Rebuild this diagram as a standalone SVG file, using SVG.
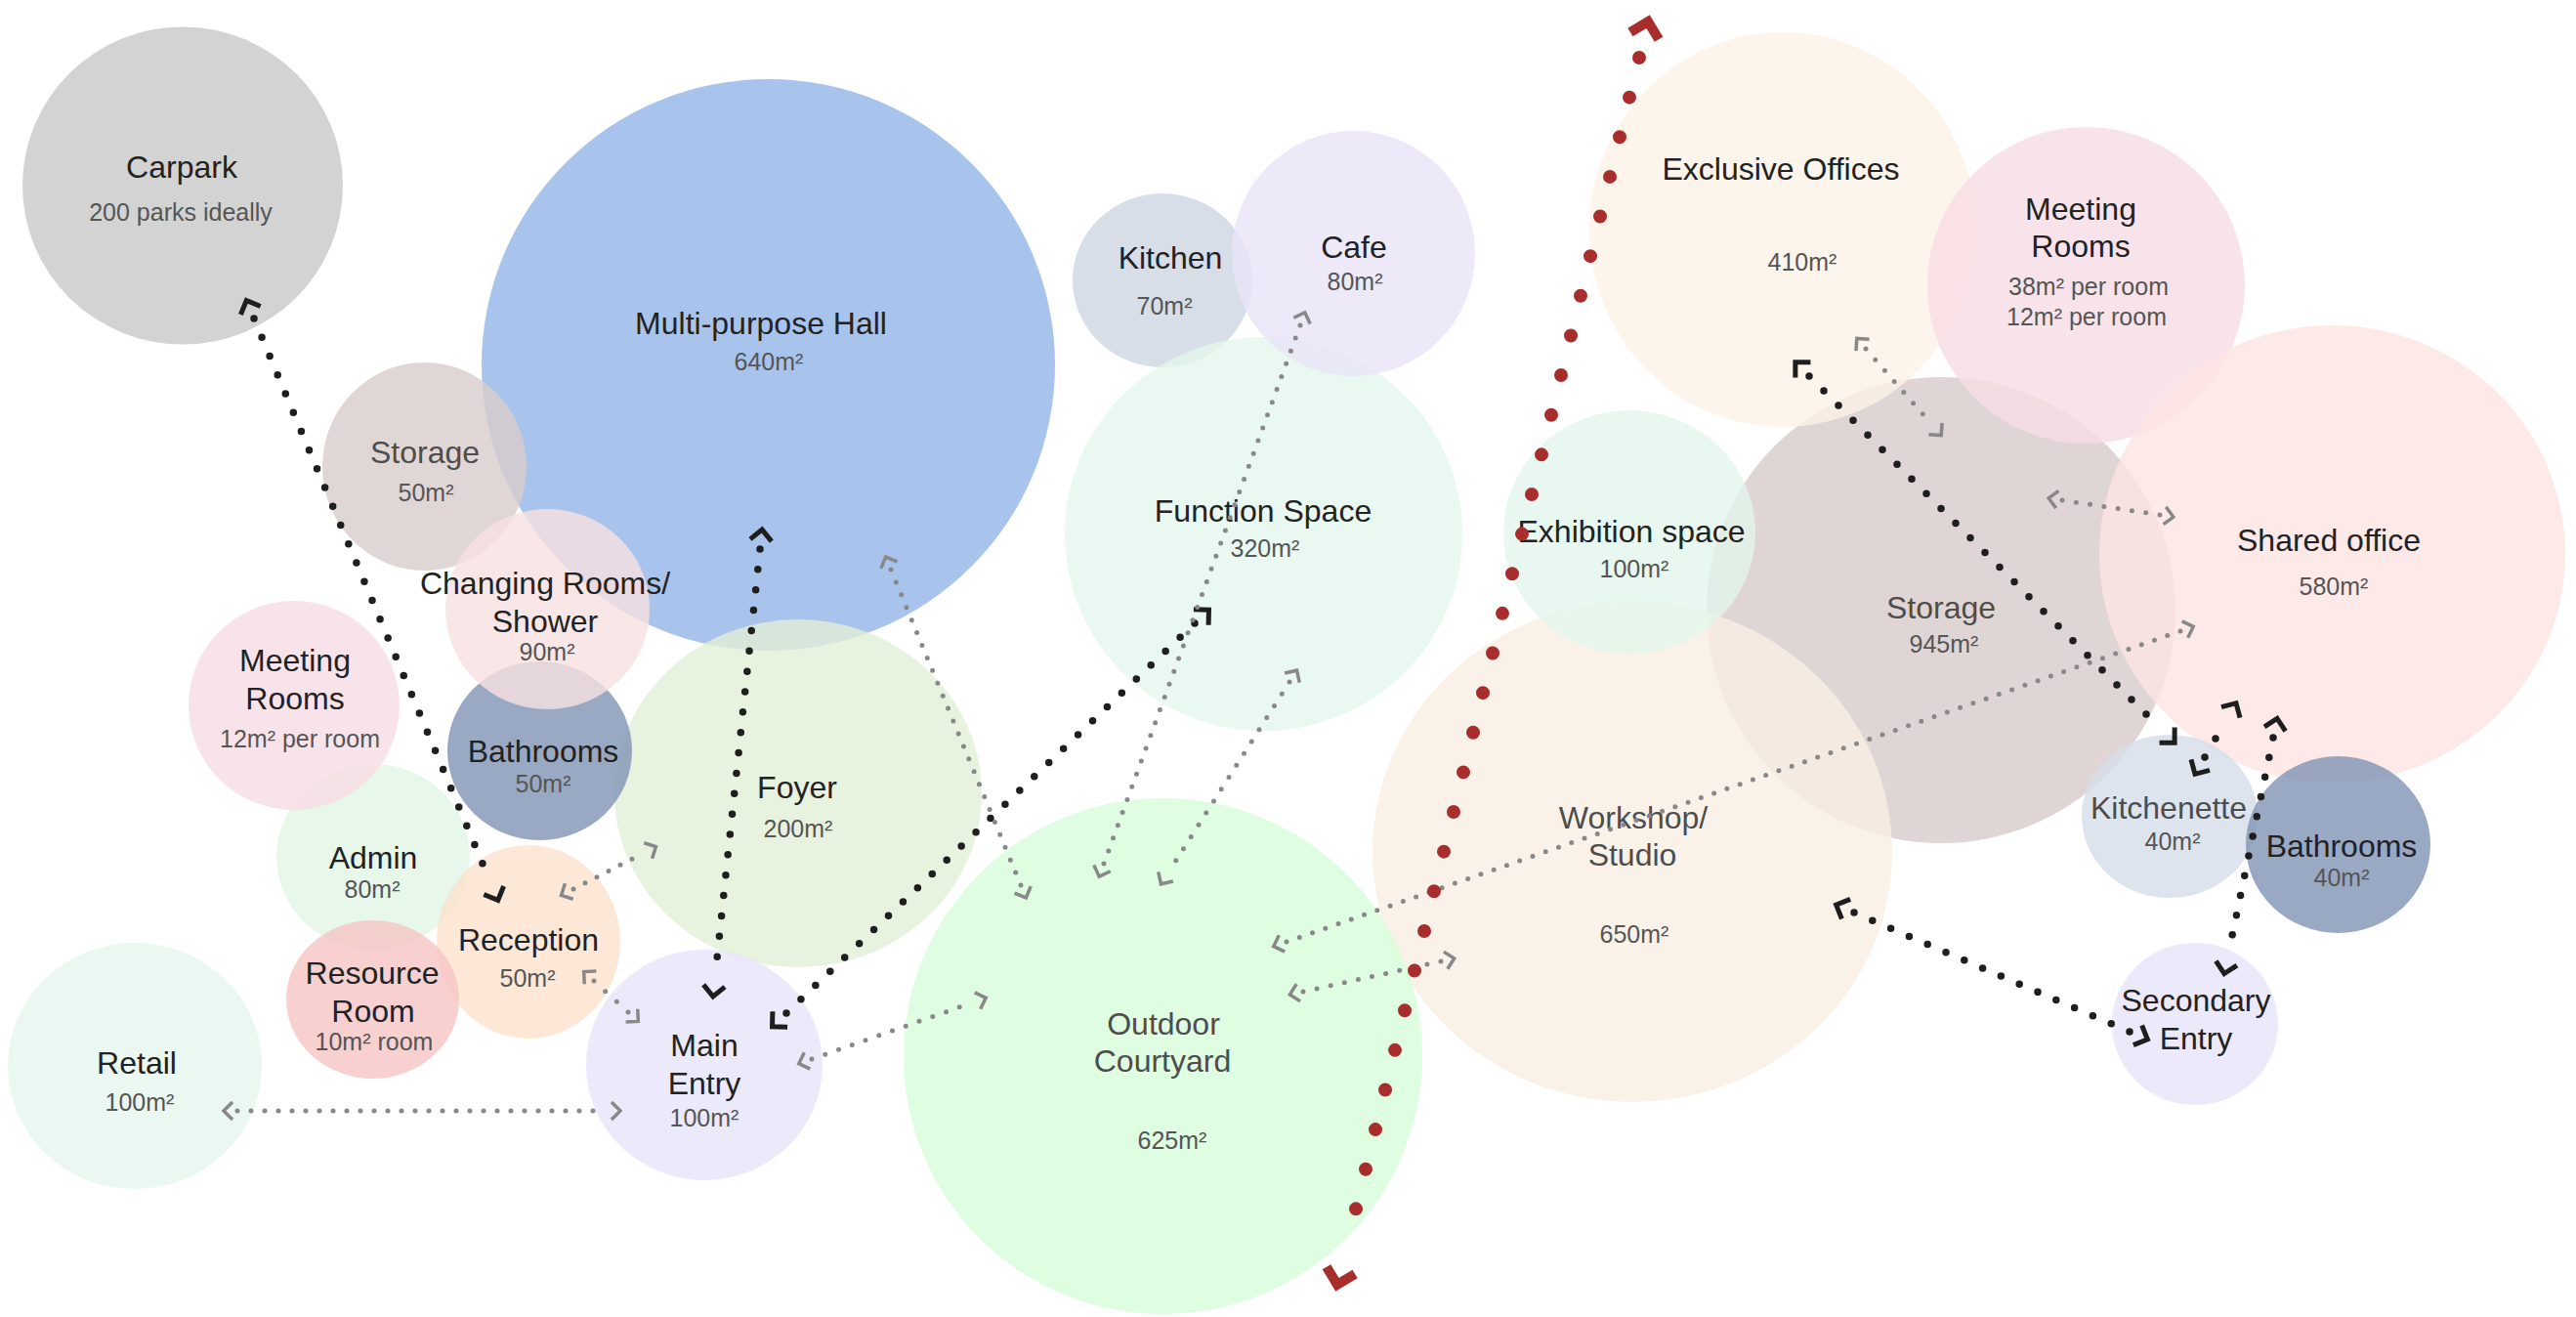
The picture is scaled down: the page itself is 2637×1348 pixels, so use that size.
<svg xmlns="http://www.w3.org/2000/svg" width="2637" height="1348" viewBox="0 0 2637 1348">
<defs>
<style>
.n{fill-opacity:.8}
.t{font-family:"Liberation Sans",Arial,Helvetica,sans-serif;font-size:32px;fill:#222;text-anchor:middle;dominant-baseline:central}
.t.g{fill:#4d4d4d}
.a{font-family:"Liberation Sans",Arial,Helvetica,sans-serif;font-size:25px;fill:#555;text-anchor:middle;dominant-baseline:central}
.lk,.lg,.lr{fill:none;stroke-linecap:round;stroke-dasharray:0 1}
.lk{stroke:#1e1e1e;stroke-width:7.5;marker-start:url(#hk);marker-end:url(#hk)}
.lg{stroke:#888;stroke-width:5;marker-start:url(#hg);marker-end:url(#hg)}
.lr{stroke:#a82e2e;stroke-width:14;marker-start:url(#hr);marker-end:url(#hr)}
</style>
<marker id="hk" markerUnits="userSpaceOnUse" orient="auto-start-reverse" overflow="visible" markerWidth="1" markerHeight="1">
<path d="M9,-11 L20,0 L9,11" fill="none" stroke="#1e1e1e" stroke-width="5"/>
</marker>
<marker id="hg" markerUnits="userSpaceOnUse" orient="auto-start-reverse" overflow="visible" markerWidth="1" markerHeight="1">
<path d="M5,-9 L14,0 L5,9" fill="none" stroke="#888" stroke-width="3.5"/>
</marker>
<marker id="hr" markerUnits="userSpaceOnUse" orient="auto-start-reverse" overflow="visible" markerWidth="1" markerHeight="1">
<path d="M23,-15 L38,0 L23,15" fill="none" stroke="#a82e2e" stroke-width="10"/>
</marker>
</defs>
<rect width="2637" height="1348" fill="#fff"/>

<g id="carpark"><ellipse class="n" cx="187" cy="190" rx="164" ry="162.5" fill="#c8c8c8"/><text class="t" x="186" y="171">Carpark</text><text class="a" x="185" y="217">200 parks ideally</text></g>
<g id="hall"><ellipse class="n" cx="786.5" cy="373.5" rx="293.5" ry="292.5" fill="#92b5e7"/><text class="t" x="779" y="331">Multi-purpose Hall</text><text class="a" x="787" y="370">640m²</text></g>
<g id="foyer"><ellipse class="n" cx="817" cy="812" rx="188" ry="178" fill="#e1efd7"/><text class="t" x="816" y="806">Foyer</text><text class="a" x="817" y="848">200m²</text></g>
<g id="storage-small"><ellipse class="n" cx="434.5" cy="477.5" rx="104.5" ry="106.5" fill="#d9cccc"/><text class="t g" x="435" y="463">Storage</text><text class="a" x="436" y="504">50m²</text></g>
<g id="bathrooms-west"><ellipse class="n" cx="552.5" cy="768.5" rx="94.5" ry="91.5" fill="#8093b4"/><text class="t" x="556" y="769">Bathrooms</text><text class="a" x="556" y="802">50m²</text></g>
<g id="changing-rooms"><ellipse class="n" cx="560.5" cy="623.5" rx="104.5" ry="102.5" fill="#f7e1e1"/><text class="t" x="558" y="597">Changing Rooms/</text><text class="t" x="558" y="636">Shower</text><text class="a" x="560" y="667">90m²</text></g>
<g id="admin"><ellipse class="n" cx="382" cy="877" rx="99" ry="95" fill="#e1f5e3"/><text class="t" x="382" y="878">Admin</text><text class="a" x="381" y="910">80m²</text></g>
<g id="meeting-west"><ellipse class="n" cx="301" cy="722" rx="108" ry="107" fill="#f7dce5"/><text class="t" x="302" y="676">Meeting</text><text class="t" x="302" y="715">Rooms</text><text class="a" x="307" y="756">12m² per room</text></g>
<g id="reception"><ellipse class="n" cx="541" cy="964" rx="94" ry="99" fill="#fce1cd"/><text class="t" x="541" y="962">Reception</text><text class="a" x="540" y="1001">50m²</text></g>
<g id="resource-room"><ellipse class="n" cx="381.5" cy="1023" rx="88.5" ry="81" fill="#f6c4c4"/><text class="t" x="381" y="996">Resource</text><text class="t" x="382" y="1035">Room</text><text class="a" x="383" y="1066">10m² room</text></g>
<g id="retail"><ellipse class="n" cx="138" cy="1091" rx="130" ry="126" fill="#e5f6ed"/><text class="t" x="140" y="1088">Retail</text><text class="a" x="143" y="1128">100m²</text></g>
<g id="main-entry"><ellipse class="n" cx="721" cy="1090" rx="121" ry="118" fill="#e7e4fa"/><text class="t" x="721" y="1070">Main</text><text class="t" x="721" y="1109">Entry</text><text class="a" x="721" y="1144">100m²</text></g>
<g id="kitchen"><ellipse class="n" cx="1190" cy="287" rx="92" ry="89" fill="#cdd6e1"/><text class="t" x="1198" y="264">Kitchen</text><text class="a" x="1192" y="313">70m²</text></g>
<g id="function-space"><ellipse class="n" cx="1293.5" cy="546.5" rx="203.5" ry="201.5" fill="#e4f6ec"/><text class="t" x="1293" y="523">Function Space</text><text class="a" x="1295" y="561">320m²</text></g>
<g id="cafe"><ellipse class="n" cx="1385.5" cy="259.5" rx="124.5" ry="125.5" fill="#e8e4f7"/><text class="t" x="1386" y="253">Cafe</text><text class="a" x="1387" y="288">80m²</text></g>
<g id="storage-large"><ellipse class="n" cx="1987" cy="624.5" rx="240" ry="238.5" fill="#d8caca"/><text class="t g" x="1987" y="622">Storage</text><text class="a" x="1990" y="659">945m²</text></g>
<g id="workshop"><ellipse class="n" cx="1671" cy="872" rx="266" ry="256" fill="#f9efe4"/><text class="t g" x="1672" y="837">Workshop/</text><text class="t g" x="1671" y="875">Studio</text><text class="a" x="1673" y="956">650m²</text></g>
<g id="courtyard"><ellipse class="n" cx="1190.5" cy="1081" rx="265.5" ry="264" fill="#d7fcd8"/><text class="t g" x="1191" y="1048">Outdoor</text><text class="t g" x="1190" y="1086">Courtyard</text><text class="a" x="1200" y="1167">625m²</text></g>
<g id="exclusive-offices"><ellipse class="n" cx="1825" cy="235" rx="198" ry="202" fill="#fcf1e6"/><text class="t" x="1823" y="173">Exclusive Offices</text><text class="a" x="1845" y="268">410m²</text></g>
<g id="meeting-east"><ellipse class="n" cx="2135.5" cy="292" rx="162.5" ry="162" fill="#f7dce5"/><text class="t" x="2130" y="214">Meeting</text><text class="t" x="2130" y="252">Rooms</text><text class="a" x="2138" y="293">38m² per room</text><text class="a" x="2136" y="324">12m² per room</text></g>
<g id="exhibition"><ellipse class="n" cx="1668" cy="545" rx="129" ry="125" fill="#e2f5eb"/><text class="t" x="1670" y="544">Exhibition space</text><text class="a" x="1673" y="582">100m²</text></g>
<g id="shared-office"><ellipse class="n" cx="2387.5" cy="567" rx="238.5" ry="234" fill="#fee4e4"/><text class="t" x="2384" y="553">Shared office</text><text class="a" x="2389" y="600">580m²</text></g>
<g id="kitchenette"><ellipse class="n" cx="2221" cy="835.5" rx="90" ry="83.5" fill="#d6dde8"/><text class="t g" x="2220" y="827">Kitchenette</text><text class="a" x="2224" y="861">40m²</text></g>
<g id="bathrooms-east"><ellipse class="n" cx="2393.5" cy="864.5" rx="94.5" ry="90.5" fill="#8093b4"/><text class="t" x="2397" y="866">Bathrooms</text><text class="a" x="2397" y="898">40m²</text></g>
<g id="secondary-entry"><ellipse class="n" cx="2247" cy="1048" rx="85" ry="83" fill="#e7e4fa"/><text class="t" x="2248" y="1024">Secondary</text><text class="t" x="2248" y="1063">Entry</text></g>

<g id="connectors">
<!-- primary circulation -->
<path class="lk" d="M260,326 L502,903" pathLength="30"/>
<path class="lk" d="M778,562 L732,1000" pathLength="21"/>
<path class="lk" d="M805,1037 L1223,638" pathLength="28"/>
<path class="lk" d="M1852,385 L2212,746" pathLength="24"/>
<path class="lk" d="M2257,775 L2279,737" pathLength="2"/>
<path class="lk" d="M2327,755 L2281,977" pathLength="11"/>
<path class="lk" d="M1898,934 L2180,1056" pathLength="15"/>
<!-- secondary links -->
<path class="lg" d="M587,910 L659,873" pathLength="6"/>
<path class="lg" d="M608,1004 L643,1036" pathLength="3"/>
<path class="lg" d="M243,1137 L621,1137" pathLength="27"/>
<path class="lg" d="M831,1084 L996,1026" pathLength="12"/>
<path class="lg" d="M912,583 L1045,906" pathLength="25"/>
<path class="lg" d="M1331,333 L1130,884" pathLength="42"/>
<path class="lg" d="M1320,698 L1196,893" pathLength="16"/>
<path class="lg" d="M1317,964 L2232,646" pathLength="69"/>
<path class="lg" d="M1334,1015 L1475,984" pathLength="10"/>
<path class="lg" d="M1910,357 L1978,435" pathLength="7"/>
<path class="lg" d="M2111,512 L2211,527" pathLength="7"/>
<!-- zone divide -->
<path class="lr" d="M1678,59 L1378,1278" pathLength="30"/>
</g>
</svg>
